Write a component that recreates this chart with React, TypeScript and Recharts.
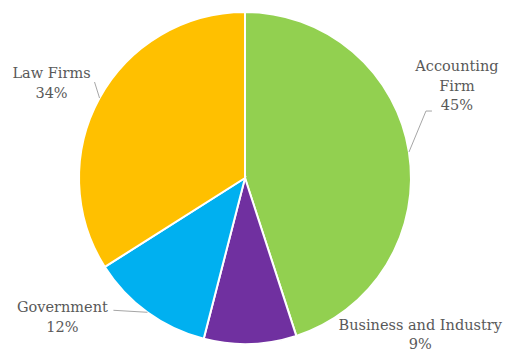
import { Cell, Pie, PieChart } from "recharts";

const CATEGORIES = ["Accounting Firm", "Business and Industry", "Government", "Law Firms"];
const SHARES = [45, 9, 12, 34];
const LABEL_LINES = [["Accounting", "Firm"], ["Business and Industry"], ["Government"], ["Law Firms"]];

const COLORS = ["#92D050", "#7030A0", "#00B0F0", "#FFC000"];

// text offset from slice edge point, plus leader line points (relative)
const LAYOUT = [
  { dx: 48, dy: -86, leader: [[17, -41], [23, -41]] },
  { dx: 170, dy: -19, leader: [] },
  { dx: -85, dy: -5, leader: [[-34, -2]] },
  { dx: -48, dy: -25, leader: [[-5, -16]] },
];

const data = CATEGORIES.map((name, i) => ({ name, value: SHARES[i] }));
const RADIAN = Math.PI / 180;

function renderLabel(props: any) {
  const { cx, cy, midAngle, outerRadius, index } = props;
  const ex = cx + outerRadius * Math.cos(-midAngle * RADIAN);
  const ey = cy + outerRadius * Math.sin(-midAngle * RADIAN);
  const lay = LAYOUT[index];
  const lines = [...LABEL_LINES[index], `${SHARES[index]}%`];
  const pts = [[ex, ey], ...lay.leader.map(([x, y]) => [ex + x, ey + y])];
  return (
    <g key={`lbl-${index}`}>
      {pts.length > 1 && (
        <polyline points={pts.map((p) => p.join(",")).join(" ")} fill="none" stroke="#a6a6a6" strokeWidth={1} />
      )}
      {lines.map((t, j) => (
        <text
          key={j}
          x={ex + lay.dx}
          y={ey + lay.dy + j * 19.5}
          textAnchor="middle"
          dominantBaseline="central"
          fill="#595959"
          fontSize={14.5}
          fontFamily="'DejaVu Serif', serif"
        >
          {t}
        </text>
      ))}
    </g>
  );
}

export default function App() {
  return (
    <div style={{ position: "absolute", left: 0, top: 0, background: "#fff" }}>
      <PieChart width={505} height={352} margin={{ top: 0, right: 0, bottom: 0, left: 0 }}>
        <Pie
          data={data}
          dataKey="value"
          nameKey="name"
          cx={245}
          cy={178}
          outerRadius={166}
          startAngle={90}
          endAngle={-270}
          stroke="#fff"
          strokeWidth={2}
          label={renderLabel}
          labelLine={false}
          isAnimationActive={false}
        >
          {data.map((entry, index) => (
            <Cell key={entry.name} fill={COLORS[index]} />
          ))}
        </Pie>
      </PieChart>
    </div>
  );
}
